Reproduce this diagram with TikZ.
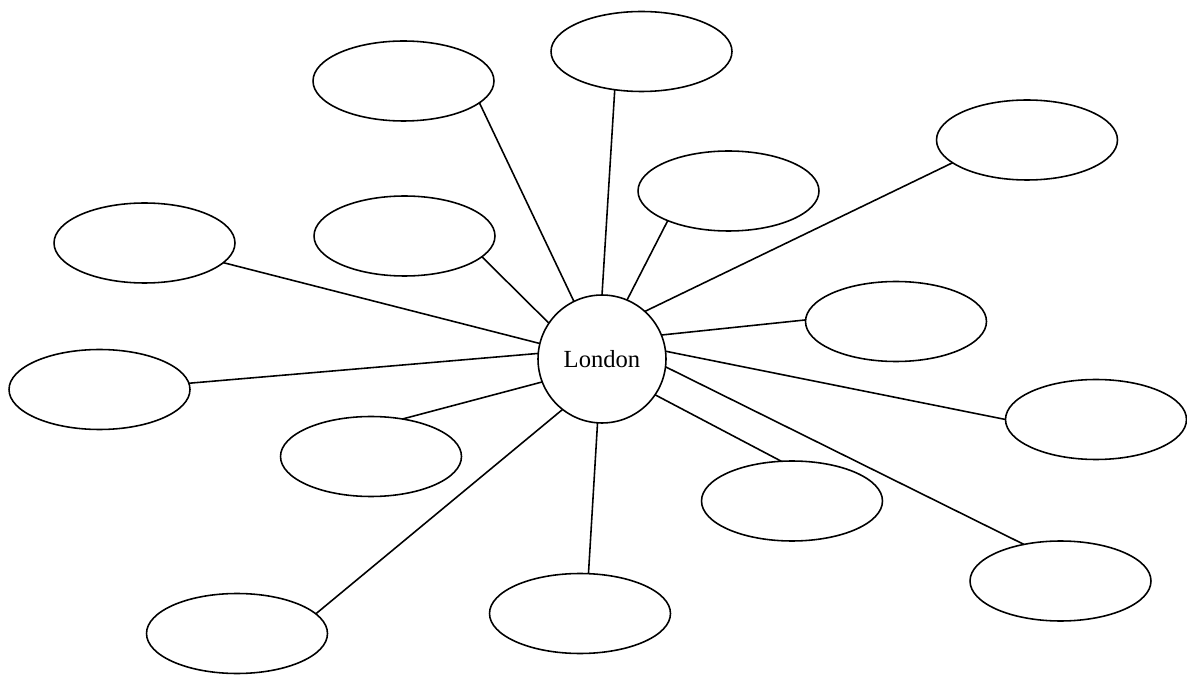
\documentclass[tikz,border=0pt]{standalone}
\usepackage{fontspec}
\setmainfont{Liberation Serif}
\usetikzlibrary{shapes.geometric}
\begin{document}
\begin{tikzpicture}[x=0.02cm,y=-0.02cm,
  bubble/.style={draw,ellipse,line width=0.9pt,minimum width=3.62cm,minimum height=1.6cm,inner sep=0pt,outer sep=0pt},
  hub/.style={draw,circle,line width=0.9pt,minimum size=2.56cm,inner sep=0pt,outer sep=0pt,font=\fontsize{14}{16}\selectfont},
  spoke/.style={line width=0.9pt}]
\useasboundingbox (0,0) rectangle (1187,675);
\node[hub] (c) at (602,359) {London};
% outer bubbles
\node[bubble] (e1)  at (403.5,81)    {};
\node[bubble] (e2)  at (641.5,51.5)  {};
\node[bubble] (e3)  at (1027,140)    {};
\node[bubble] (e4)  at (728.5,191)   {};
\node[bubble] (e5)  at (404.5,236)   {};
\node[bubble] (e6)  at (144.5,243)   {};
\node[bubble] (e7)  at (896,321.5)   {};
\node[bubble] (e8)  at (99.5,389.5)  {};
\node[bubble] (e9)  at (1096,419.5)  {};
\node[bubble] (e10) at (371,456.5)   {};
\node[bubble] (e11) at (792,501)     {};
\node[bubble] (e12) at (1060.5,581)  {};
\node[bubble] (e13) at (580,613.5)   {};
\node[bubble] (e14) at (237,633.5)   {};
% spokes from the hub
\draw[spoke] (c.116.2) -- (e1.-16);
\draw[spoke] (c.90.9)  -- (e2.-125.5);
\draw[spoke] (c.48.1)  -- (e3.-163.4);
\draw[spoke] (c.67.9)  -- (e4.-154);
\draw[spoke] (c.146.3) -- (e5.-15.8);
\draw[spoke] (c.166)   -- (e6.-14);
\draw[spoke] (c.22.3)  -- (e7.179);
\draw[spoke] (c.175.6) -- (e8.4.8);
\draw[spoke] (c.7.8)   -- (e9.180);
\draw[spoke] (c.201.2) -- (e10.50.4);
\draw[spoke] (c.-34)   -- (e11.105);
\draw[spoke] (c.-7.8)  -- (e12.135);
\draw[spoke] (c.-94.5) -- (e13.78.8);
\draw[spoke] (c.-128.3) -- (e14.14.3);
\end{tikzpicture}
\end{document}
